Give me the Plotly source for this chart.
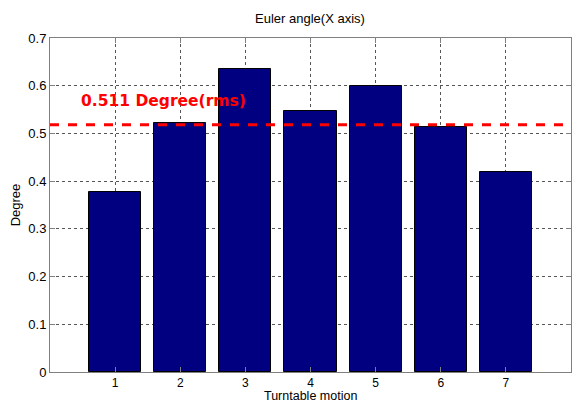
import plotly.graph_objects as go

motions = [1, 2, 3, 4, 5, 6, 7]
degrees = [0.377, 0.521, 0.635, 0.548, 0.600, 0.5125, 0.419]
rms_level = 0.518
rms_label = "0.511 Degree(rms)"
y_ticks = [0, 0.1, 0.2, 0.3, 0.4, 0.5, 0.6, 0.7]
y_tick_text = ["0", "0.1", "0.2", "0.3", "0.4", "0.5", "0.6", "0.7"]

W, H = 573, 405
ML, MR, MT, MB = 50, 2, 38, 33
PH = H - MT - MB

fig = go.Figure()
fig.add_trace(go.Bar(
    x=motions, y=degrees, width=0.8,
    marker=dict(color="#000080", line=dict(color="#000000", width=1)),
    showlegend=False,
))
fig.add_trace(go.Scatter(
    x=[0, 8], y=[rms_level, rms_level], mode="lines",
    line=dict(color="#ff0000", width=3, dash="dash"),
    showlegend=False,
))
fig.add_annotation(
    x=0.45, y=0.567, xref="x", yref="y", text=rms_label, showarrow=False,
    xanchor="left", yanchor="middle",
    font=dict(family="DejaVu Sans", size=15.5, color="#ff0000", weight="bold"),
)
# x-axis title as an annotation so it sits at the very bottom like the reference
fig.add_annotation(
    x=0.5, y=-(MB - 1) / PH, xref="paper", yref="paper", text="Turntable motion",
    showarrow=False, xanchor="center", yanchor="bottom", borderpad=0,
    font=dict(family="Liberation Sans, Arial", size=12.5, color="#000000"),
)

axis_common = dict(
    showline=True, linecolor="#808080", linewidth=1, mirror="ticks",
    ticks="inside", ticklen=5, tickcolor="#808080",
    showgrid=True, gridcolor="#555555", griddash="dot", gridwidth=1,
    zeroline=False, automargin=False,
    tickfont=dict(family="Liberation Sans, Arial", size=13, color="#000000"),
)

fig.update_layout(
    width=W, height=H,
    margin=dict(l=ML, r=MR, t=MT, b=MB, autoexpand=False),
    plot_bgcolor="#ffffff", paper_bgcolor="#ffffff",
    bargap=0,
    title=dict(text="Euler angle(X axis)", x=0.541, xanchor="center", y=0.955, yanchor="middle",
               font=dict(family="Liberation Sans, Arial", size=13, color="#000000")),
    xaxis=dict(range=[0, 8], tickvals=motions, ticktext=[str(m) for m in motions],
               **axis_common),
    yaxis=dict(range=[0, 0.7], tickvals=y_ticks, ticktext=y_tick_text,
               title=dict(text="Degree", standoff=4,
                          font=dict(family="Liberation Sans, Arial", size=13, color="#000000")),
               **axis_common),
)
fig.update_xaxes(tickfont=dict(size=12))

fig.write_html("out.html")
